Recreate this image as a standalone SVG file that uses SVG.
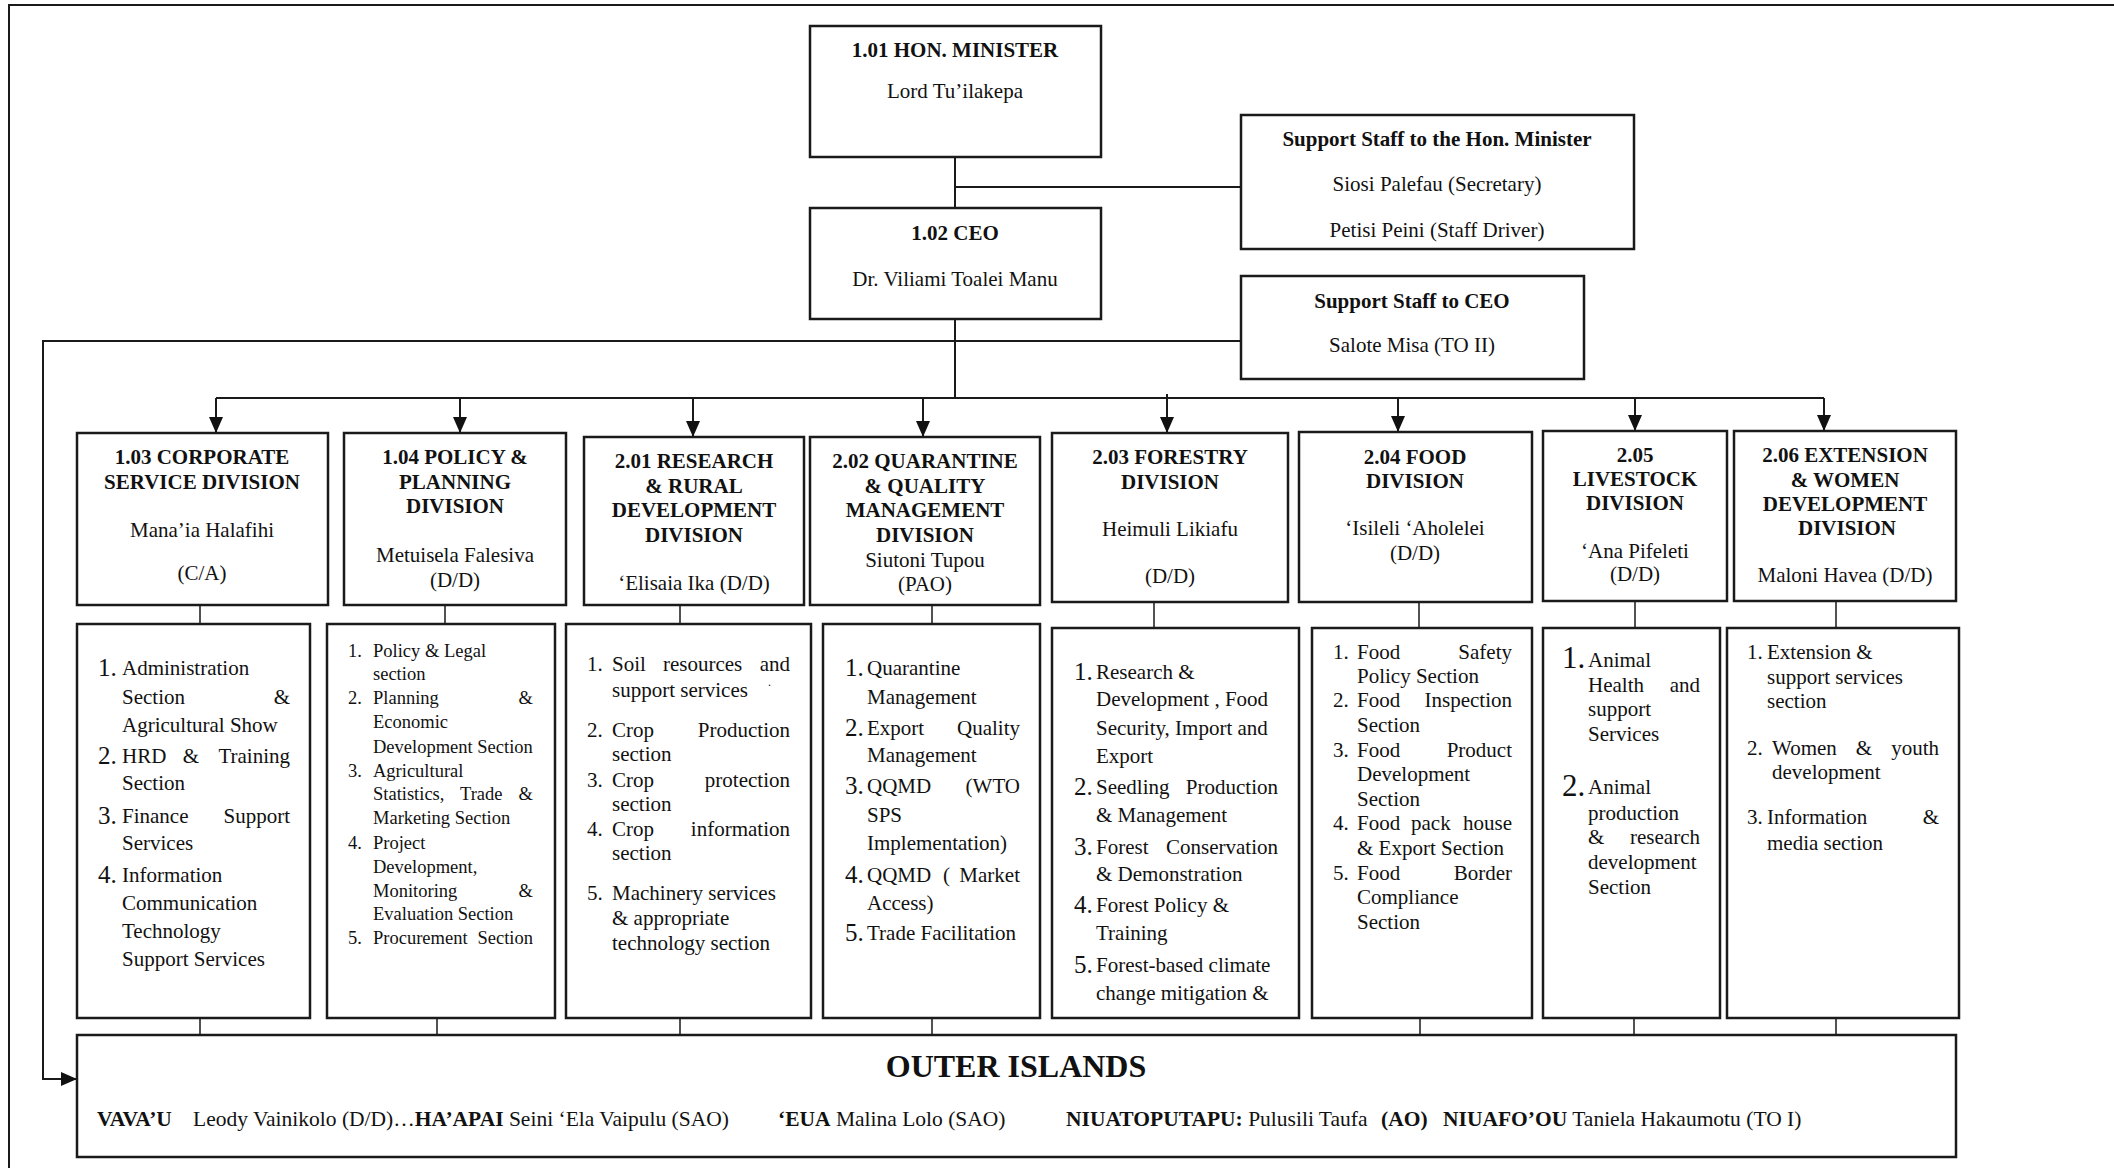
<svg xmlns="http://www.w3.org/2000/svg" width="2114" height="1168" viewBox="0 0 2114 1168">
<style>
text{font-family:"Liberation Serif","Times New Roman",serif;font-size:21px;fill:#111}
.b{font-weight:bold}
.c{text-anchor:middle}
.e{text-anchor:end}
.s{font-size:18.5px}
.n{font-size:25px}
.nb{font-size:31px}
.box{fill:#fff;stroke:#1a1a1a;stroke-width:2.5}
.ln{fill:none;stroke:#1a1a1a;stroke-width:2}
.thin{fill:none;stroke:#1a1a1a;stroke-width:1.5}
</style>
<defs>
<marker id="ah" markerUnits="userSpaceOnUse" markerWidth="16" markerHeight="14" refX="16" refY="7" orient="auto">
<path d="M0,0 L16,7 L0,14 z" fill="#111"/>
</marker>
</defs>
<rect width="2114" height="1168" fill="#fff"/>
<path d="M9,1168 V5 H2114" class="ln"/>

<g id="connectors">
<path class="ln" d="M955,157 V208"/>
<path class="ln" d="M955,187 H1241"/>
<path class="ln" d="M955,319 V398"/>
<path class="ln" d="M1241,341 H43 V1079 H77" marker-end="url(#ah)"/>
<path class="ln" d="M216,398 H1824"/>
<path class="ln" d="M216,398 V433" marker-end="url(#ah)"/>
<path class="ln" d="M460,398 V433" marker-end="url(#ah)"/>
<path class="ln" d="M693,398 V437" marker-end="url(#ah)"/>
<path class="ln" d="M923,398 V437" marker-end="url(#ah)"/>
<path class="ln" d="M1167,394 V433" marker-end="url(#ah)"/>
<path class="ln" d="M1398,398 V432" marker-end="url(#ah)"/>
<path class="ln" d="M1635,398 V431" marker-end="url(#ah)"/>
<path class="ln" d="M1824,398 V431" marker-end="url(#ah)"/>
<path class="thin" d="M200,605 V624 M445,605 V624 M680,605 V624 M932,605 V628 M1154,602 V628 M1419,602 V628 M1635,601 V628 M1836,601 V628"/>
<path class="thin" d="M200,1018 V1035 M437,1018 V1035 M680,1018 V1035 M932,1018 V1035 M1420,1018 V1035 M1634,1018 V1035 M1836,1018 V1035"/>
</g>

<g id="minister">
<rect class="box" x="810" y="26" width="291" height="131"/>
<text class="b c" x="955" y="57">1.01 HON. MINISTER</text>
<text class="c" x="955" y="98">Lord Tu’ilakepa</text>
</g>
<g id="ceo">
<rect class="box" x="810" y="208" width="291" height="111"/>
<text class="b c" x="955" y="240">1.02 CEO</text>
<text class="c" x="955" y="286">Dr. Viliami Toalei Manu</text>
</g>
<g id="support-minister">
<rect class="box" x="1241" y="115" width="393" height="134"/>
<text class="b c" x="1437" y="146">Support Staff to the Hon. Minister</text>
<text class="c" x="1437" y="191">Siosi Palefau (Secretary)</text>
<text class="c" x="1437" y="237">Petisi Peini (Staff Driver)</text>
</g>
<g id="support-ceo">
<rect class="box" x="1241" y="276" width="343" height="103"/>
<text class="b c" x="1412" y="308">Support Staff to CEO</text>
<text class="c" x="1412" y="352">Salote Misa (TO II)</text>
</g>

<g id="div-103">
<rect class="box" x="77" y="433" width="251" height="172"/>
<text class="b c" x="202" y="464">1.03 CORPORATE</text>
<text class="b c" x="202" y="489">SERVICE DIVISION</text>
<text class="c" x="202" y="537">Mana’ia Halafihi</text>
<text class="c" x="202" y="580">(C/A)</text>
</g>
<g id="div-104">
<rect class="box" x="344" y="433" width="222" height="172"/>
<text class="b c" x="455" y="464">1.04 POLICY &amp;</text>
<text class="b c" x="455" y="489">PLANNING</text>
<text class="b c" x="455" y="513">DIVISION</text>
<text class="c" x="455" y="562">Metuisela Falesiva</text>
<text class="c" x="455" y="587">(D/D)</text>
</g>
<g id="div-201">
<rect class="box" x="584" y="437" width="220" height="168"/>
<text class="b c" x="694" y="468">2.01 RESEARCH</text>
<text class="b c" x="694" y="493">&amp; RURAL</text>
<text class="b c" x="694" y="517">DEVELOPMENT</text>
<text class="b c" x="694" y="542">DIVISION</text>
<text class="c" x="694" y="590">‘Elisaia Ika (D/D)</text>
</g>
<g id="div-202">
<rect class="box" x="810" y="437" width="230" height="168"/>
<text class="b c" x="925" y="468">2.02 QUARANTINE</text>
<text class="b c" x="925" y="493">&amp; QUALITY</text>
<text class="b c" x="925" y="517">MANAGEMENT</text>
<text class="b c" x="925" y="542">DIVISION</text>
<text class="c" x="925" y="567">Siutoni Tupou</text>
<text class="c" x="925" y="591">(PAO)</text>
</g>
<g id="div-203">
<rect class="box" x="1052" y="433" width="236" height="169"/>
<text class="b c" x="1170" y="464">2.03 FORESTRY</text>
<text class="b c" x="1170" y="489">DIVISION</text>
<text class="c" x="1170" y="536">Heimuli Likiafu</text>
<text class="c" x="1170" y="583">(D/D)</text>
</g>
<g id="div-204">
<rect class="box" x="1299" y="432" width="233" height="170"/>
<text class="b c" x="1415" y="464">2.04 FOOD</text>
<text class="b c" x="1415" y="488">DIVISION</text>
<text class="c" x="1415" y="535">‘Isileli ‘Aholelei</text>
<text class="c" x="1415" y="560">(D/D)</text>
</g>
<g id="div-205">
<rect class="box" x="1543" y="431" width="184" height="170"/>
<text class="b c" x="1635" y="462">2.05</text>
<text class="b c" x="1635" y="486">LIVESTOCK</text>
<text class="b c" x="1635" y="510">DIVISION</text>
<text class="c" x="1635" y="558">‘Ana Pifeleti</text>
<text class="c" x="1635" y="581">(D/D)</text>
</g>
<g id="div-206">
<rect class="box" x="1734" y="431" width="222" height="170"/>
<text class="b c" x="1845" y="462">2.06 EXTENSION</text>
<text class="b c" x="1845" y="487">&amp; WOMEN</text>
<text class="b c" x="1845" y="511">DEVELOPMENT</text>
<text class="b c" x="1847" y="535">DIVISION</text>
<text class="c" x="1845" y="582">Maloni Havea (D/D)</text>
</g>

<g id="list-103">
<rect class="box" x="77" y="624" width="233" height="394"/>
<text class="n" x="98" y="676">1.</text><text x="122" y="675">Administration</text>
<text x="122" y="704">Section</text><text class="e" x="290" y="704">&amp;</text>
<text x="122" y="732">Agricultural Show</text>
<text class="n" x="98" y="764">2.</text><text x="122" y="763">HRD</text><text class="c" x="191" y="763">&amp;</text><text class="e" x="290" y="763">Training</text>
<text x="122" y="790">Section</text>
<text class="n" x="98" y="824">3.</text><text x="122" y="823">Finance</text><text class="e" x="290" y="823">Support</text>
<text x="122" y="850">Services</text>
<text class="n" x="98" y="883">4.</text><text x="122" y="882">Information</text>
<text x="122" y="910">Communication</text>
<text x="122" y="938">Technology</text>
<text x="122" y="966">Support Services</text>
</g>
<g id="list-104">
<rect class="box" x="327" y="624" width="228" height="394"/>
<text class="s" x="348" y="657">1.</text><text class="s" x="373" y="657">Policy &amp; Legal</text>
<text class="s" x="373" y="680">section</text>
<text class="s" x="348" y="704">2.</text><text class="s" x="373" y="704">Planning</text><text class="s e" x="533" y="704">&amp;</text>
<text class="s" x="373" y="728">Economic</text>
<text class="s" x="373" y="753">Development Section</text>
<text class="s" x="348" y="777">3.</text><text class="s" x="373" y="777">Agricultural</text>
<text class="s" x="373" y="800">Statistics,</text><text class="s" x="460" y="800">Trade</text><text class="s e" x="533" y="800">&amp;</text>
<text class="s" x="373" y="824">Marketing Section</text>
<text class="s" x="348" y="849">4.</text><text class="s" x="373" y="849">Project</text>
<text class="s" x="373" y="873">Development,</text>
<text class="s" x="373" y="897">Monitoring</text><text class="s e" x="533" y="897">&amp;</text>
<text class="s" x="373" y="920">Evaluation Section</text>
<text class="s" x="348" y="944">5.</text><text class="s" x="373" y="944">Procurement</text><text class="s e" x="533" y="944">Section</text>
</g>
<g id="list-201">
<rect class="box" x="566" y="624" width="245" height="394"/>
<text x="587" y="671">1.</text><text x="612" y="671">Soil</text><text x="663" y="671">resources</text><text class="e" x="790" y="671">and</text>
<text x="612" y="697">support services</text><text x="768" y="686" style="font-size:12px">.</text>
<text x="587" y="737">2.</text><text x="612" y="737">Crop</text><text class="e" x="790" y="737">Production</text>
<text x="612" y="761">section</text>
<text x="587" y="787">3.</text><text x="612" y="787">Crop</text><text class="e" x="790" y="787">protection</text>
<text x="612" y="811">section</text>
<text x="587" y="836">4.</text><text x="612" y="836">Crop</text><text class="e" x="790" y="836">information</text>
<text x="612" y="860">section</text>
<text x="587" y="900">5.</text><text x="612" y="900">Machinery services</text>
<text x="612" y="925">&amp; appropriate</text>
<text x="612" y="950">technology section</text>
</g>
<g id="list-202">
<rect class="box" x="823" y="624" width="217" height="394"/>
<text class="n" x="845" y="676">1.</text><text x="867" y="675">Quarantine</text>
<text x="867" y="704">Management</text>
<text class="n" x="845" y="736">2.</text><text x="867" y="735">Export</text><text class="e" x="1020" y="735">Quality</text>
<text x="867" y="762">Management</text>
<text class="n" x="845" y="794">3.</text><text x="867" y="793">QQMD</text><text class="e" x="1020" y="793">(WTO</text>
<text x="867" y="822">SPS</text>
<text x="867" y="850">Implementation)</text>
<text class="n" x="845" y="883">4.</text><text x="867" y="882">QQMD</text><text x="943" y="882">(</text><text class="e" x="1020" y="882">Market</text>
<text x="867" y="910">Access)</text>
<text class="n" x="845" y="941">5.</text><text x="867" y="940">Trade Facilitation</text>
</g>
<g id="list-203">
<rect class="box" x="1052" y="628" width="247" height="390"/>
<text class="n" x="1074" y="680">1.</text><text x="1096" y="679">Research &amp;</text>
<text x="1096" y="706">Development , Food</text>
<text x="1096" y="735">Security, Import and</text>
<text x="1096" y="763">Export</text>
<text class="n" x="1074" y="795">2.</text><text x="1096" y="794">Seedling</text><text class="e" x="1278" y="794">Production</text>
<text x="1096" y="822">&amp; Management</text>
<text class="n" x="1074" y="855">3.</text><text x="1096" y="854">Forest</text><text class="e" x="1278" y="854">Conservation</text>
<text x="1096" y="881">&amp; Demonstration</text>
<text class="n" x="1074" y="913">4.</text><text x="1096" y="912">Forest Policy &amp;</text>
<text x="1096" y="940">Training</text>
<text class="n" x="1074" y="973">5.</text><text x="1096" y="972">Forest-based climate</text>
<text x="1096" y="1000">change mitigation &amp;</text>
</g>
<g id="list-204">
<rect class="box" x="1312" y="628" width="220" height="390"/>
<text x="1333" y="659">1.</text><text x="1357" y="659">Food</text><text class="e" x="1512" y="659">Safety</text>
<text x="1357" y="683">Policy Section</text>
<text x="1333" y="707">2.</text><text x="1357" y="707">Food</text><text class="e" x="1512" y="707">Inspection</text>
<text x="1357" y="732">Section</text>
<text x="1333" y="757">3.</text><text x="1357" y="757">Food</text><text class="e" x="1512" y="757">Product</text>
<text x="1357" y="781">Development</text>
<text x="1357" y="806">Section</text>
<text x="1333" y="830">4.</text><text x="1357" y="830">Food</text><text x="1411" y="830">pack</text><text class="e" x="1512" y="830">house</text>
<text x="1357" y="855">&amp; Export Section</text>
<text x="1333" y="880">5.</text><text x="1357" y="880">Food</text><text class="e" x="1512" y="880">Border</text>
<text x="1357" y="904">Compliance</text>
<text x="1357" y="929">Section</text>
</g>
<g id="list-205">
<rect class="box" x="1543" y="628" width="177" height="390"/>
<text class="nb" x="1562" y="668">1.</text><text x="1588" y="667">Animal</text>
<text x="1588" y="692">Health</text><text class="e" x="1700" y="692">and</text>
<text x="1588" y="716">support</text>
<text x="1588" y="741">Services</text>
<text class="nb" x="1562" y="796">2.</text><text x="1588" y="794">Animal</text>
<text x="1588" y="820">production</text>
<text x="1588" y="844">&amp;</text><text class="e" x="1700" y="844">research</text>
<text x="1588" y="869">development</text>
<text x="1588" y="894">Section</text>
</g>
<g id="list-206">
<rect class="box" x="1727" y="628" width="232" height="390"/>
<text x="1747" y="659">1.</text><text x="1767" y="659">Extension &amp;</text>
<text x="1767" y="684">support services</text>
<text x="1767" y="708">section</text>
<text x="1747" y="755">2.</text><text x="1772" y="755">Women</text><text class="c" x="1864" y="755">&amp;</text><text class="e" x="1939" y="755">youth</text>
<text x="1772" y="779">development</text>
<text x="1747" y="824">3.</text><text x="1767" y="824">Information</text><text class="e" x="1939" y="824">&amp;</text>
<text x="1767" y="850">media section</text>
</g>

<g id="outer-islands">
<rect class="box" x="77" y="1035" width="1879" height="122"/>
<text class="b c" x="1016" y="1077" style="font-size:32px">OUTER ISLANDS</text>
<text y="1126" style="font-size:21.5px"><tspan class="b" x="97">VAVA’U</tspan><tspan x="193">Leody Vainikolo (D/D)…</tspan><tspan class="b">HA’APAI</tspan><tspan> Seini ‘Ela Vaipulu (SAO)</tspan><tspan class="b" x="778">‘EUA</tspan><tspan> Malina Lolo (SAO)</tspan><tspan class="b" x="1066">NIUATOPUTAPU:</tspan><tspan> Pulusili Taufa</tspan><tspan class="b" x="1381">(AO)</tspan><tspan class="b" x="1443">NIUAFO’OU</tspan><tspan> Taniela Hakaumotu (TO I)</tspan></text>
</g>
</svg>
